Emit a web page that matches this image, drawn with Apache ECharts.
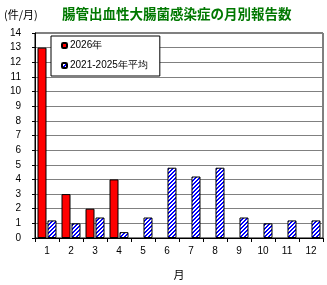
<!DOCTYPE html>
<html><head><meta charset="utf-8">
<script src="https://cdn.jsdelivr.net/npm/echarts@6/dist/echarts.min.js"></script>
<style>html,body{margin:0;padding:0;background:#fff}#c{width:327px;height:285px}</style>
</head><body><div id="c"></div>
<script>
const months = ['1','2','3','4','5','6','7','8','9','10','11','12'];
const yTicks = [0,1,2,3,4,5,6,7,8,9,10,11,12,13,14];
const series2026 = [13, 3, 2, 4, null, null, null, null, null, null, null, null];
const seriesAvg = [1.2, 1.0, 1.4, 0.4, 1.4, 4.8, 4.2, 4.8, 1.4, 1.0, 1.2, 1.2];
const name2026 = '2026年';
const nameAvg = '2021-2025年平均';

function stripe() {
  const c = document.createElement('canvas');
  c.width = 4; c.height = 4;
  const ctx = c.getContext('2d');
  for (let x = 0; x < 4; x++) for (let y = 0; y < 4; y++) {
    ctx.fillStyle = ((x + y) % 4 < 2) ? '#0000ff' : '#ffffff';
    ctx.fillRect(x, y, 1, 1);
  }
  return c;
}
const font = 'Liberation Sans';
const chart = echarts.init(document.getElementById('c'), null, {renderer: 'canvas'});
chart.setOption({
  animation: false,
  backgroundColor: '#fff',
  graphic: [
    {type: 'text', left: 4, top: 9, style: {text: '(件/月)', fontSize: 11, fontFamily: 'Noto Sans CJK JP', fill: '#000'}},
    {type: 'text', left: 62, top: 7, style: {text: '腸管出血性大腸菌感染症の月別報告数', fontSize: 13.5, fontWeight: 'bold', fontFamily: 'Noto Sans CJK JP', fill: '#007800'}}
  ],
  legend: {
    left: 51, top: 36, orient: 'vertical',
    itemWidth: 5, itemHeight: 5, itemGap: 9,
    padding: [4, 12, 5, 10],
    borderColor: '#000', borderWidth: 1, backgroundColor: '#fff',
    textStyle: {fontSize: 10, fontFamily: font, color: '#000', padding: [0,0,0,-2], lineHeight: 11},
    data: [name2026, nameAvg]
  },
  grid: {left: 35, top: 33, right: 4, bottom: 41, show: true, borderColor: '#000', borderWidth: 1},
  xAxis: {
    type: 'category', data: months, boundaryGap: true,
    name: '月', nameLocation: 'middle', nameGap: 31,
    nameTextStyle: {fontSize: 11, fontFamily: 'Noto Sans CJK JP', color: '#000'},
    axisLine: {lineStyle: {color: '#000', width: 1}},
    axisTick: {show: true, length: 4, alignWithLabel: false, lineStyle: {color: '#000'}},
    axisLabel: {fontSize: 10, fontFamily: font, color: '#000', margin: 8}
  },
  yAxis: {
    type: 'value', min: yTicks[0], max: yTicks[yTicks.length-1], interval: 1,
    axisLine: {show: true, lineStyle: {color: '#000'}},
    axisTick: {show: true, length: 3, lineStyle: {color: '#000'}},
    axisLabel: {fontSize: 10, fontFamily: font, color: '#000', margin: 14},
    splitLine: {lineStyle: {color: '#808080', width: 1}}
  },
  series: [
    {name: name2026, type: 'bar', data: series2026, barWidth: 9, barGap: '11%',
     itemStyle: {color: '#ff0000', borderColor: '#000', borderWidth: 1}},
    {name: nameAvg, type: 'bar', data: seriesAvg, barWidth: 9,
     itemStyle: {color: {image: stripe(), repeat: 'repeat'}, borderColor: '#000', borderWidth: 1}}
  ]
});
</script></body></html>
